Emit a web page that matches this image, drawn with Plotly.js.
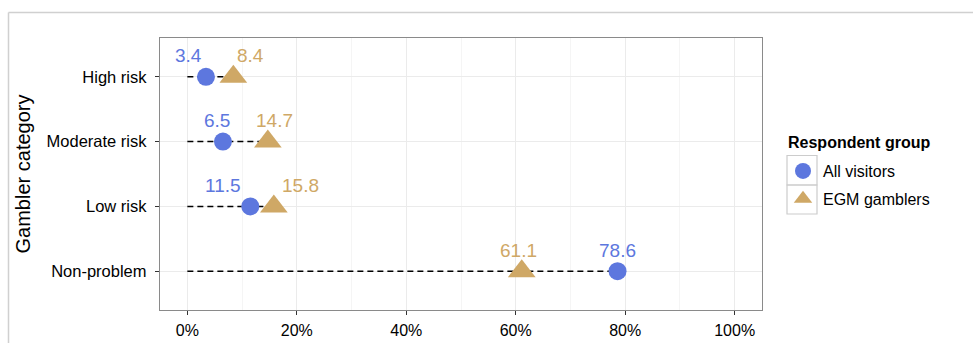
<!DOCTYPE html>
<html>
<head>
<meta charset="utf-8">
<script src="https://cdn.plot.ly/plotly-3.0.1.min.js"></script>
<style>
html,body{margin:0;padding:0;background:#fff;}
#chart{width:973px;height:343px;}
</style>
</head>
<body>
<div id="chart"></div>
<script>
// ---- data ----
const categories = ["High risk", "Moderate risk", "Low risk", "Non-problem"];
const allVisitors = [3.4, 6.5, 11.5, 78.6];
const egmGamblers = [8.4, 14.7, 15.8, 61.1];
const seriesNames = ["All visitors", "EGM gamblers"];
const legendTitle = "Respondent group";
const yTitle = "Gambler category";
const xTickVals = [0, 20, 40, 60, 80, 100];
const xTickText = ["0%", "20%", "40%", "60%", "80%", "100%"];

// ---- style / layout constants ----
const BLUE = "#5d77de";
const TAN = "#cfa866";
const FONT = "'Liberation Sans', Arial, Helvetica, sans-serif";
// horizontal pixel nudges for the value labels (to keep them apart)
const blueLabelShift = [-17, -6, -27, 0];
const tanLabelShift = [17, 7, 27, -3];

const W = 973, H = 343;
const L = 160, R = 762, T = 38, B = 310;
const px = x => (x - L) / (R - L);
const py = y => (B - y) / (B - T);

// dashed connector from 0 to the larger value in each category
const segX = [], segY = [];
categories.forEach((c, i) => {
  segX.push(0, Math.max(allVisitors[i], egmGamblers[i]), null);
  segY.push(c, c, null);
});

const traces = [
  {
    x: segX, y: segY, type: "scatter", mode: "lines",
    line: {color: "#000", width: 1.5, dash: "6px,4px"},
    showlegend: false, hoverinfo: "skip"
  },
  {
    x: allVisitors, y: categories, type: "scatter", mode: "markers",
    name: seriesNames[0], legendgroup: "a",
    marker: {symbol: "circle", size: 18, color: BLUE}
  },
  {
    x: egmGamblers, y: categories, type: "scatter", mode: "markers",
    name: seriesNames[1], legendgroup: "b",
    marker: {symbol: "triangle-up", size: 24, color: TAN}
  }
];

const annotations = [];
categories.forEach((c, i) => {
  annotations.push({
    x: allVisitors[i], y: c, xref: "x", yref: "y",
    text: allVisitors[i].toFixed(1), showarrow: false,
    xanchor: "center", yanchor: "middle", yshift: 21, xshift: blueLabelShift[i],
    font: {family: FONT, size: 19, color: BLUE}
  });
  annotations.push({
    x: egmGamblers[i], y: c, xref: "x", yref: "y",
    text: egmGamblers[i].toFixed(1), showarrow: false,
    xanchor: "center", yanchor: "middle", yshift: 21, xshift: tanLabelShift[i],
    font: {family: FONT, size: 19, color: TAN}
  });
});
annotations.push({
  xref: "paper", yref: "paper", x: px(786), y: py(142),
  xanchor: "left", yanchor: "middle", showarrow: false,
  text: "<b>" + legendTitle + "</b>",
  font: {family: FONT, size: 16, color: "#000"}
});

const shapes = [
  // outer frame (cropped figure border)
  {type: "line", xref: "paper", yref: "paper", x0: px(8.5), x1: px(980), y0: py(12.5), y1: py(12.5),
   line: {color: "#d0d0d0", width: 1.5}, layer: "below"},
  {type: "line", xref: "paper", yref: "paper", x0: px(8.5), x1: px(8.5), y0: py(12.5), y1: py(350),
   line: {color: "#d0d0d0", width: 1.5}, layer: "below"},
  // legend key boxes
  {type: "rect", xref: "paper", yref: "paper", x0: px(787), x1: px(817), y0: py(155.5), y1: py(185),
   line: {color: "#cccccc", width: 1.2}, fillcolor: "rgba(0,0,0,0)", layer: "below"},
  {type: "rect", xref: "paper", yref: "paper", x0: px(787), x1: px(817), y0: py(185), y1: py(214),
   line: {color: "#cccccc", width: 1.2}, fillcolor: "rgba(0,0,0,0)", layer: "below"}
];

const layout = {
  width: W, height: H,
  margin: {l: L, r: W - R, t: T, b: H - B, pad: 0},
  paper_bgcolor: "#fff", plot_bgcolor: "#fff",
  font: {family: FONT, size: 16, color: "#000"},
  showlegend: true,
  legend: {
    x: px(783), xanchor: "left", y: py(154), yanchor: "top",
    font: {family: FONT, size: 16, color: "#000"},
    traceorder: "grouped", tracegroupgap: 4, itemwidth: 30,
    bgcolor: "rgba(0,0,0,0)", borderwidth: 0
  },
  xaxis: {
    range: [-5, 105], tickvals: xTickVals, ticktext: xTickText,
    showgrid: true, gridcolor: "#ebebeb", gridwidth: 1,
    minor: {dtick: 10, tick0: 0, showgrid: true, gridcolor: "#f5f5f5", gridwidth: 1, ticks: ""},
    ticks: "outside", ticklen: 4, tickcolor: "#333", tickwidth: 1,
    ticklabelstandoff: 2,
    showline: true, linecolor: "#8a8a8a", linewidth: 1.2, mirror: true,
    zeroline: false, tickfont: {family: FONT, size: 16, color: "#000"}
  },
  yaxis: {
    type: "category",
    categoryorder: "array", categoryarray: categories.slice().reverse(),
    range: [-0.6, 3.6],
    showgrid: true, gridcolor: "#ebebeb", gridwidth: 1,
    ticks: "outside", ticklen: 4, tickcolor: "#333", tickwidth: 1,
    ticklabelstandoff: 5,
    showline: true, linecolor: "#8a8a8a", linewidth: 1.2, mirror: true,
    zeroline: false, tickfont: {family: FONT, size: 16.5, color: "#000"},
    title: {text: yTitle, font: {family: FONT, size: 20, color: "#000"}, standoff: 10}
  },
  annotations: annotations,
  shapes: shapes
};

Plotly.newPlot("chart", traces, layout, {displayModeBar: false, staticPlot: true});
</script>
</body>
</html>
